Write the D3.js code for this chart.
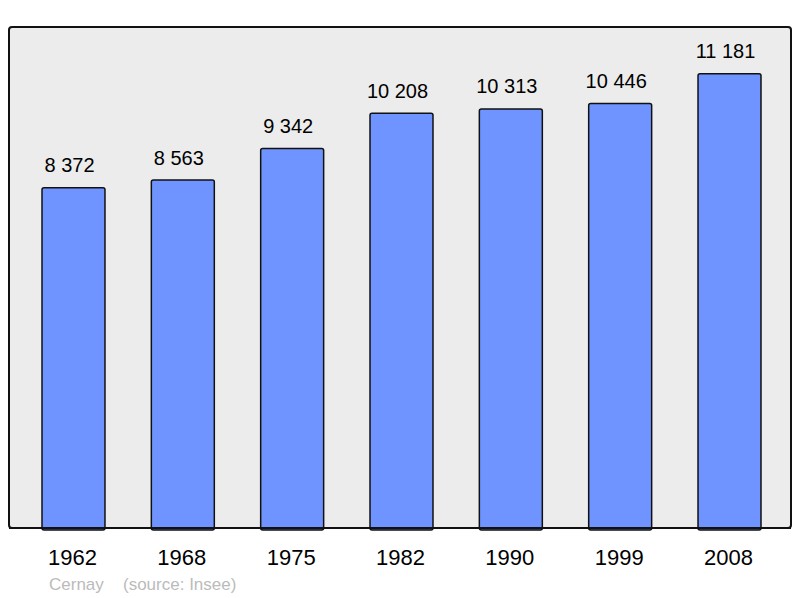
<!DOCTYPE html>
<html><head><meta charset="utf-8">
<script src="https://cdn.jsdelivr.net/npm/d3@7"></script>
<style>body{margin:0;background:#fff}svg{display:block}</style>
</head><body>
<svg id="c" width="800" height="598"></svg>
<script>
const years = ["1962","1968","1975","1982","1990","1999","2008"];
const population = [8372, 8563, 9342, 10208, 10313, 10446, 11181];
const commune = "Cernay";
const sourceText = "(source: Insee)";

const svg = d3.select("#c");
const fmt = v => { const s = String(v); return s.length > 3 ? s.slice(0, s.length-3) + " " + s.slice(-3) : s; };
const font = "Liberation Sans, Arial, sans-serif";

const frame = {x0: 9, x1: 791, y0: 27, y1: 528};
const x = d3.scaleBand().domain(years).range([9.2, 793.8]).paddingInner(0.424).paddingOuter(0.3);
const y = d3.scaleLinear().domain([0, 12330]).range([frame.y1, frame.y0]);

svg.append("rect").attr("x", frame.x0).attr("y", frame.y0)
  .attr("width", frame.x1 - frame.x0).attr("height", frame.y1 - frame.y0)
  .attr("rx", 3).attr("fill", "#ececec").attr("stroke", "#111").attr("stroke-width", 2);

const g = svg.append("g");
g.selectAll("rect.bar").data(population).join("rect").attr("class","bar")
  .attr("x", (d,i) => x(years[i])).attr("width", x.bandwidth())
  .attr("y", d => y(d)).attr("height", d => y(0) - y(d) + 2)
  .attr("rx", 2).attr("fill", "#7094ff").attr("stroke", "#111").attr("stroke-width", 1.5);

svg.append("line").attr("x1", frame.x0).attr("x2", frame.x1).attr("y1", frame.y1).attr("y2", frame.y1)
  .attr("stroke", "#111").attr("stroke-width", 2);

g.selectAll("text.val").data(population).join("text").attr("class","val")
  .attr("x", (d,i) => x(years[i]) + x.bandwidth()/2 - 4).attr("y", d => y(d) - 15.5)
  .attr("text-anchor", "middle").attr("font-family", font).attr("font-size", 20).attr("fill", "#000")
  .text(d => fmt(d));

const xAxis = d3.axisBottom(x).tickSize(0).tickPadding(0);
const ax = svg.append("g").attr("transform", `translate(0, ${frame.y1})`).call(xAxis);
ax.select(".domain").remove();
ax.selectAll("text").attr("font-family", font).attr("font-size", 22).attr("fill", "#000")
  .attr("dy", null).attr("y", 36.5).attr("dx", -1);

svg.append("text").attr("x", 49).attr("y", 590).attr("font-family", font).attr("font-size", 17)
  .attr("fill", "#bbb").text(commune);
svg.append("text").attr("x", 123).attr("y", 590).attr("font-family", font).attr("font-size", 17)
  .attr("fill", "#bbb").text(sourceText);
</script>
</body></html>
